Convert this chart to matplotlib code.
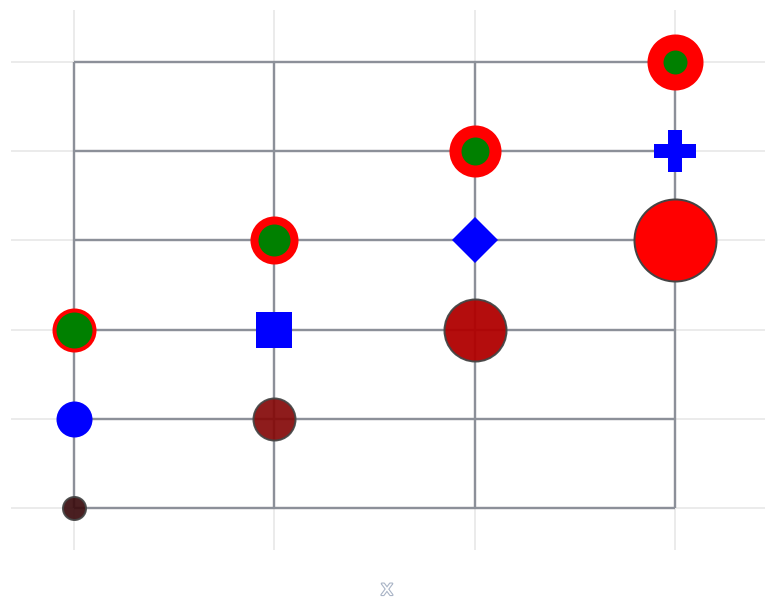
import matplotlib
matplotlib.use("Agg")
import matplotlib.pyplot as plt
import matplotlib.patheffects as pe

# grid of positions
cols = [0, 1, 2, 3]
rows = [0, 1, 2, 3, 4, 5]

# growing circles (size series)
size_x = [0, 1, 2, 3]
size_y = [0, 1, 2, 3]
size_px = [23, 42, 62, 82]
size_colors = ["#3a0c0e", "#840808", "#b00000", "#ff0000"]
size_alpha = [0.92, 0.92, 0.95, 1.0]

# symbol series
symbol_x = [0, 1, 2, 3]
symbol_y = [1, 2, 3, 4]
symbols = ["o", "s", "D", "P"]
symbol_px = [36, 36, 33, 43]

# ring series (line width)
ring_x = [0, 1, 2, 3]
ring_y = [2, 3, 4, 5]
ring_size_px = [40, 40, 40, 40]
ring_width_px = [4, 8, 12, 16]

W, H, DPI = 777, 615, 100
PT = 72.0 / DPI  # points per pixel

fig = plt.figure(figsize=(W / DPI, H / DPI), dpi=DPI)
ax = fig.add_axes([11 / W, 1 - 550 / H, (765 - 11) / W, (550 - 10) / H])
ax.set_xlim(-0.312, 3.449)
ax.set_ylim(-0.47, 5.583)
for s in ax.spines.values():
    s.set_visible(False)
ax.set_xticks(cols)
ax.set_yticks(rows)
ax.tick_params(length=0, labelbottom=False, labelleft=False)
ax.grid(True, color="#ebebeb", linewidth=2 * PT)
ax.set_axisbelow(True)

mesh_color = "#8c9099"
ax.hlines(rows, cols[0], cols[-1], colors=mesh_color, linewidth=2.4 * PT, zorder=2)
ax.vlines(cols, rows[0], rows[-1], colors=mesh_color, linewidth=2.4 * PT, zorder=2)

for x, y, d, c, a in zip(size_x, size_y, size_px, size_colors, size_alpha):
    ax.plot([x], [y], marker="o", linestyle="none", markersize=d * PT,
            markerfacecolor=c, markeredgecolor="#444444", markeredgewidth=2 * PT,
            alpha=a, zorder=3)

for x, y, m, d in zip(symbol_x, symbol_y, symbols, symbol_px):
    ax.plot([x], [y], marker=m, linestyle="none", markersize=d * PT,
            markerfacecolor="#0000ff", markeredgewidth=0, zorder=3)

for x, y, d, w in zip(ring_x, ring_y, ring_size_px, ring_width_px):
    ax.plot([x], [y], marker="o", linestyle="none", markersize=d * PT,
            markerfacecolor="#008000", markeredgecolor="#ff0000",
            markeredgewidth=w * PT, zorder=3)

fig.text(387 / W, 1 - 589 / H, "x", ha="center", va="center", fontsize=15,
         color="white",
         path_effects=[pe.withStroke(linewidth=1.6, foreground="#a9b4c6")])

fig.savefig("out.png", dpi=DPI, facecolor="white")
